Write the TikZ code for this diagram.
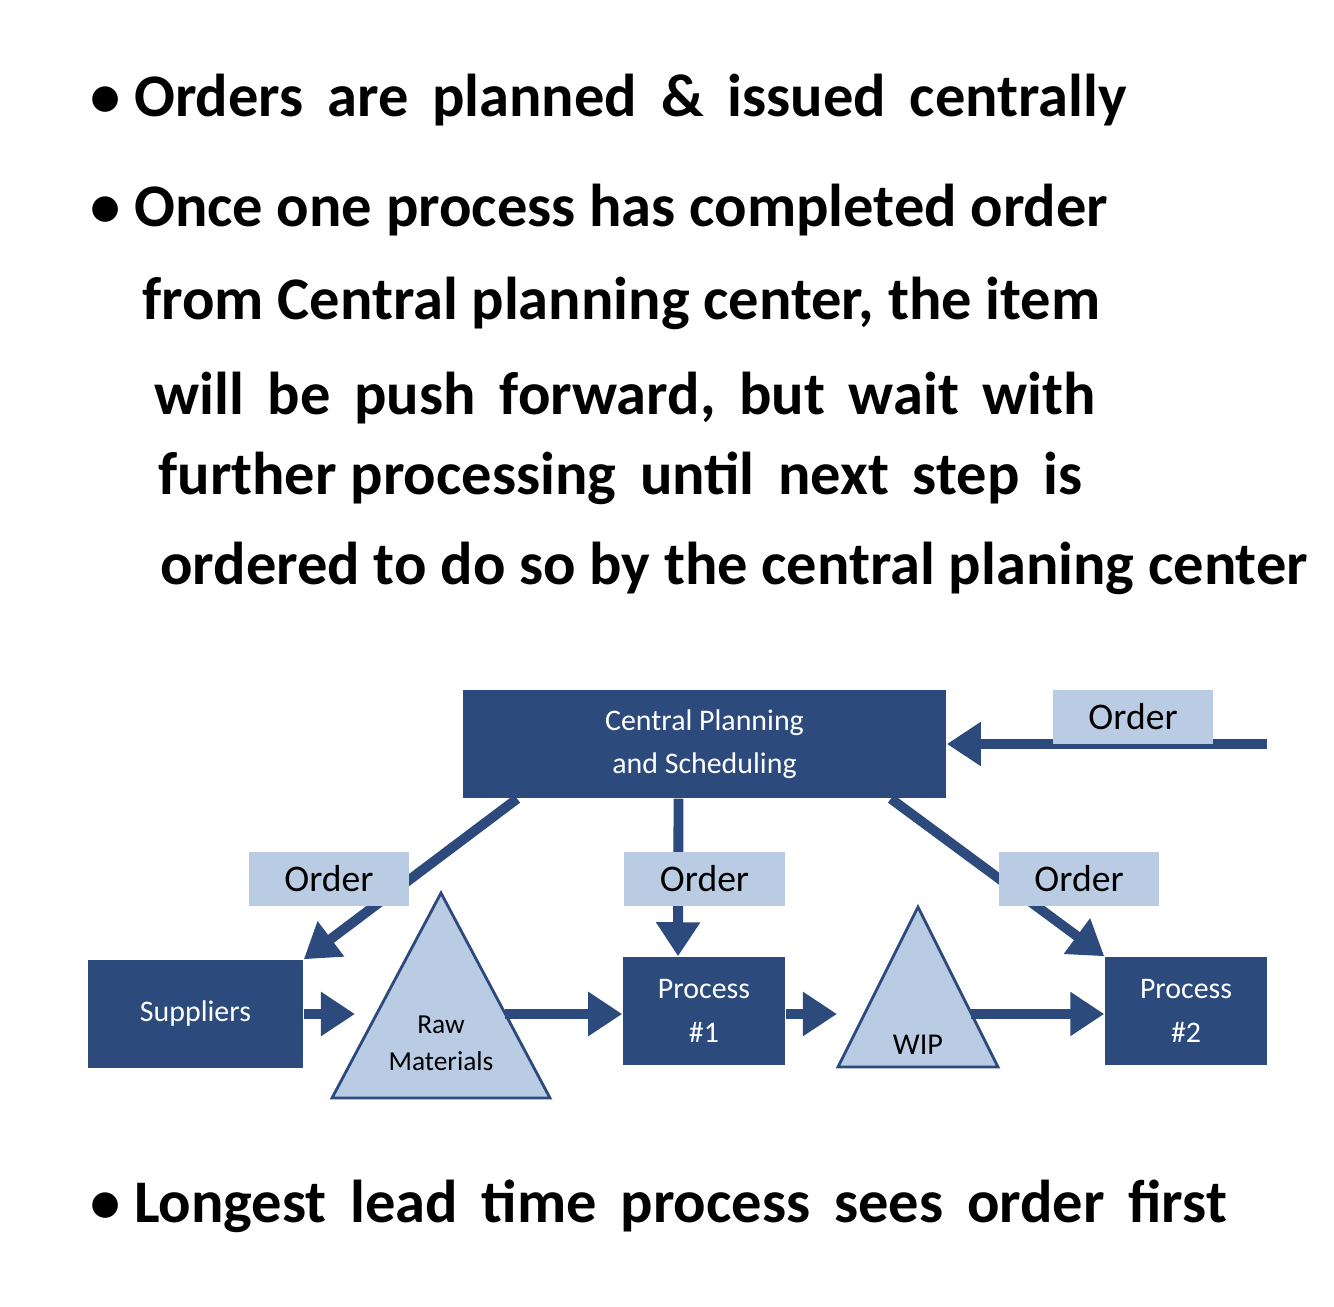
\documentclass[tikz,border=0pt]{standalone}
\usepackage{fontspec}
\setmainfont{Carlito}
\usetikzlibrary{arrows.meta,calc}

\begin{document}
\begin{tikzpicture}[x=0.01cm, y=-0.01cm, >={Triangle[length=0.34cm,width=0.42cm]},
  darkbox/.style={fill=navy, text=white, font=\fontsize{8.5}{12.3}\selectfont, align=center, inner sep=0pt},
  orderlabel/.style={fill=paleblue, minimum width=1.6cm, minimum height=0.53cm, font=\fontsize{10.7}{12}\selectfont, inner sep=0pt},
  stock/.style={fill=paleblue, draw=navy, line width=0.8pt, line join=miter},
  flow/.style={->, navy, line width=2.8pt},
  note/.style={anchor=west, font=\fontsize{17.2}{19}\selectfont\bfseries}]
\definecolor{navy}{HTML}{2C4A7C}
\definecolor{paleblue}{HTML}{B9CCE4}
\useasboundingbox (0,0) rectangle (1334,1307);
% handwritten notes
\node[note] (t1) at (78,100) {\textbullet\ Orders\, are\, planned\, \&\, issued\, centrally};
\node[note] (t2) at (78,210) {\textbullet\ Once one process has completed order};
\node[note] (t3) at (130,303) {from Central planning center, the item};
\node[note] (t4) at (142,398) {will\, be\, push\, forward,\, but\, wait\, with};
\node[note] (t5) at (146,478) {further processing\, until\, next\, step\, is};
\node[note] (t6) at (148,568) {ordered to do so by the central planing center};
\node[note] (t7) at (78,1206) {\textbullet\ Longest\, lead\, time\, process\, sees\, order\, first};
% boxes
\node[darkbox, minimum width=4.83cm, minimum height=1.08cm] (cps) at (704.5,744) {Central Planning\\and Scheduling};
\node[darkbox, minimum width=2.15cm, minimum height=1.08cm] (sup) at (195.5,1014) {Suppliers};
\node[darkbox, minimum width=1.62cm, minimum height=1.08cm] (p1) at (704,1011) {Process\\\#1};
\node[darkbox, minimum width=1.62cm, minimum height=1.08cm] (p2) at (1186,1011) {Process\\\#2};
% inventory triangles
\draw[stock] (441,893) -- (550,1098) -- (332,1098) -- cycle;
\node[align=center, font=\fontsize{7.8}{10.5}\selectfont] (raw) at (441,1043) {Raw\\Materials};
\draw[stock] (918,907) -- (998,1067) -- (838,1067) -- cycle;
\node[font=\fontsize{8.6}{10}\selectfont] (wip) at (918,1045) {WIP};
\coordinate (rawin) at (355,1014);
\coordinate (rawout) at (505,1014);
\coordinate (wipin) at (837,1014);
\coordinate (wipout) at (971,1014);
\coordinate (in) at (1267,744);
% material flow
\draw[flow] (sup.east) -- (rawin);
\draw[flow] (rawout) -- (p1.west |- rawout);
\draw[flow] (p1.east |- rawout) -- (wipin);
\draw[flow] (wipout) -- (p2.west |- wipout);
% order flow
\draw[flow] (in) -- (cps.east);
\draw[flow] ($(cps.south west)+(55,0)$) -- (sup.north east);
\draw[flow] ($(cps.south)+(-26,0)$) -- ($(p1.north)+(-26,0)$);
\draw[flow] ($(cps.south east)+(-56,0)$) -- (p2.north west);
\node[orderlabel] (o0) at (1133,717) {Order};
\node[orderlabel] (o1) at (329,879) {Order};
\node[orderlabel] (o2) at (704.5,879) {Order};
\node[orderlabel] (o3) at (1079,879) {Order};
\end{tikzpicture}
\end{document}
